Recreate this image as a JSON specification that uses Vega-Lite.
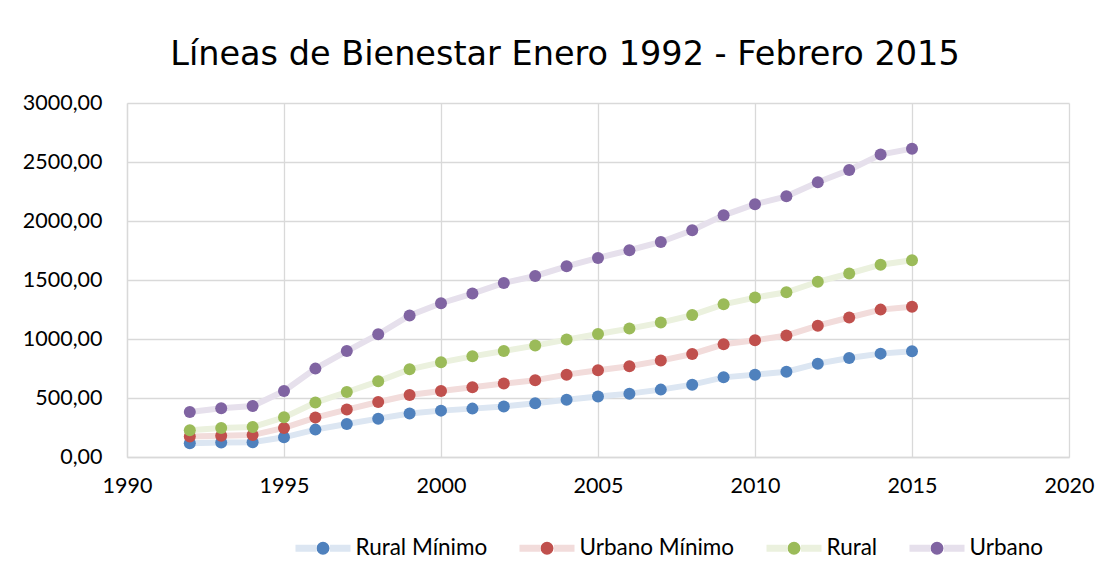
{
  "$schema": "https://vega.github.io/schema/vega-lite/v6.json",
  "width": 942,
  "height": 354,
  "autosize": {"type": "none"},
  "padding": {"left": 127, "top": 103, "right": 47, "bottom": 122},
  "background": "white",
  "config": {
    "locale": {"number": {"decimal": ",", "thousands": ".", "grouping": [3], "currency": ["", " €"]}},
    "font": "Lato",
    "view": {"stroke": null},
    "axis": {
      "title": null,
      "grid": true,
      "gridColor": "#D9D9D9",
      "gridWidth": 1.3,
      "domainColor": "#D9D9D9",
      "domainWidth": 1.3,
      "ticks": false,
      "labelColor": "#000000",
      "labelFont": "Lato",
      "labelFontSize": 21.5,
      "labelOverlap": false,
      "labelFlush": false,
      "labelBound": false
    }
  },
  "title": {
    "text": "Líneas de Bienestar Enero 1992 - Febrero 2015",
    "font": "DejaVu Sans",
    "fontSize": 33.5,
    "fontWeight": "normal",
    "color": "#000000",
    "anchor": "middle",
    "baseline": "alphabetic",
    "dx": -33,
    "offset": -6
  },
  "data": {
    "values": [
      {"year": 1992, "serie": "Rural Mínimo", "value": 116},
      {"year": 1993, "serie": "Rural Mínimo", "value": 122},
      {"year": 1994, "serie": "Rural Mínimo", "value": 125},
      {"year": 1995, "serie": "Rural Mínimo", "value": 167},
      {"year": 1996, "serie": "Rural Mínimo", "value": 232},
      {"year": 1997, "serie": "Rural Mínimo", "value": 280},
      {"year": 1998, "serie": "Rural Mínimo", "value": 325},
      {"year": 1999, "serie": "Rural Mínimo", "value": 368},
      {"year": 2000, "serie": "Rural Mínimo", "value": 393},
      {"year": 2001, "serie": "Rural Mínimo", "value": 410},
      {"year": 2002, "serie": "Rural Mínimo", "value": 428},
      {"year": 2003, "serie": "Rural Mínimo", "value": 455},
      {"year": 2004, "serie": "Rural Mínimo", "value": 486},
      {"year": 2005, "serie": "Rural Mínimo", "value": 512},
      {"year": 2006, "serie": "Rural Mínimo", "value": 537},
      {"year": 2007, "serie": "Rural Mínimo", "value": 571},
      {"year": 2008, "serie": "Rural Mínimo", "value": 613},
      {"year": 2009, "serie": "Rural Mínimo", "value": 675},
      {"year": 2010, "serie": "Rural Mínimo", "value": 698},
      {"year": 2011, "serie": "Rural Mínimo", "value": 723},
      {"year": 2012, "serie": "Rural Mínimo", "value": 791},
      {"year": 2013, "serie": "Rural Mínimo", "value": 839},
      {"year": 2014, "serie": "Rural Mínimo", "value": 876},
      {"year": 2015, "serie": "Rural Mínimo", "value": 896},
      {"year": 1992, "serie": "Urbano Mínimo", "value": 173},
      {"year": 1993, "serie": "Urbano Mínimo", "value": 181},
      {"year": 1994, "serie": "Urbano Mínimo", "value": 186},
      {"year": 1995, "serie": "Urbano Mínimo", "value": 246},
      {"year": 1996, "serie": "Urbano Mínimo", "value": 334},
      {"year": 1997, "serie": "Urbano Mínimo", "value": 402},
      {"year": 1998, "serie": "Urbano Mínimo", "value": 466},
      {"year": 1999, "serie": "Urbano Mínimo", "value": 525},
      {"year": 2000, "serie": "Urbano Mínimo", "value": 559},
      {"year": 2001, "serie": "Urbano Mínimo", "value": 591},
      {"year": 2002, "serie": "Urbano Mínimo", "value": 622},
      {"year": 2003, "serie": "Urbano Mínimo", "value": 650},
      {"year": 2004, "serie": "Urbano Mínimo", "value": 698},
      {"year": 2005, "serie": "Urbano Mínimo", "value": 735},
      {"year": 2006, "serie": "Urbano Mínimo", "value": 769},
      {"year": 2007, "serie": "Urbano Mínimo", "value": 817},
      {"year": 2008, "serie": "Urbano Mínimo", "value": 873},
      {"year": 2009, "serie": "Urbano Mínimo", "value": 955},
      {"year": 2010, "serie": "Urbano Mínimo", "value": 989},
      {"year": 2011, "serie": "Urbano Mínimo", "value": 1030},
      {"year": 2012, "serie": "Urbano Mínimo", "value": 1113},
      {"year": 2013, "serie": "Urbano Mínimo", "value": 1182},
      {"year": 2014, "serie": "Urbano Mínimo", "value": 1249},
      {"year": 2015, "serie": "Urbano Mínimo", "value": 1274},
      {"year": 1992, "serie": "Rural", "value": 226},
      {"year": 1993, "serie": "Rural", "value": 246},
      {"year": 1994, "serie": "Rural", "value": 254},
      {"year": 1995, "serie": "Rural", "value": 336},
      {"year": 1996, "serie": "Rural", "value": 461},
      {"year": 1997, "serie": "Rural", "value": 551},
      {"year": 1998, "serie": "Rural", "value": 641},
      {"year": 1999, "serie": "Rural", "value": 743},
      {"year": 2000, "serie": "Rural", "value": 802},
      {"year": 2001, "serie": "Rural", "value": 853},
      {"year": 2002, "serie": "Rural", "value": 898},
      {"year": 2003, "serie": "Rural", "value": 944},
      {"year": 2004, "serie": "Rural", "value": 995},
      {"year": 2005, "serie": "Rural", "value": 1042},
      {"year": 2006, "serie": "Rural", "value": 1088},
      {"year": 2007, "serie": "Rural", "value": 1139},
      {"year": 2008, "serie": "Rural", "value": 1203},
      {"year": 2009, "serie": "Rural", "value": 1294},
      {"year": 2010, "serie": "Rural", "value": 1351},
      {"year": 2011, "serie": "Rural", "value": 1396},
      {"year": 2012, "serie": "Rural", "value": 1485},
      {"year": 2013, "serie": "Rural", "value": 1555},
      {"year": 2014, "serie": "Rural", "value": 1630},
      {"year": 2015, "serie": "Rural", "value": 1667},
      {"year": 1992, "serie": "Urbano", "value": 381},
      {"year": 1993, "serie": "Urbano", "value": 413},
      {"year": 1994, "serie": "Urbano", "value": 432},
      {"year": 1995, "serie": "Urbano", "value": 559},
      {"year": 1996, "serie": "Urbano", "value": 749},
      {"year": 1997, "serie": "Urbano", "value": 898},
      {"year": 1998, "serie": "Urbano", "value": 1040},
      {"year": 1999, "serie": "Urbano", "value": 1200},
      {"year": 2000, "serie": "Urbano", "value": 1303},
      {"year": 2001, "serie": "Urbano", "value": 1385},
      {"year": 2002, "serie": "Urbano", "value": 1475},
      {"year": 2003, "serie": "Urbano", "value": 1534},
      {"year": 2004, "serie": "Urbano", "value": 1616},
      {"year": 2005, "serie": "Urbano", "value": 1687},
      {"year": 2006, "serie": "Urbano", "value": 1752},
      {"year": 2007, "serie": "Urbano", "value": 1822},
      {"year": 2008, "serie": "Urbano", "value": 1921},
      {"year": 2009, "serie": "Urbano", "value": 2048},
      {"year": 2010, "serie": "Urbano", "value": 2142},
      {"year": 2011, "serie": "Urbano", "value": 2209},
      {"year": 2012, "serie": "Urbano", "value": 2328},
      {"year": 2013, "serie": "Urbano", "value": 2432},
      {"year": 2014, "serie": "Urbano", "value": 2563},
      {"year": 2015, "serie": "Urbano", "value": 2613}
    ]
  },
  "encoding": {
    "x": {
      "field": "year",
      "type": "quantitative",
      "scale": {"domain": [1990, 2020], "zero": false, "nice": false},
      "axis": {"values": [1990, 1995, 2000, 2005, 2010, 2015, 2020], "format": "d", "labelPadding": 18}
    },
    "y": {
      "field": "value",
      "type": "quantitative",
      "scale": {"domain": [0, 3000], "nice": false},
      "axis": {"values": [0, 500, 1000, 1500, 2000, 2500, 3000], "format": ".2f", "labelPadding": 25}
    }
  },
  "layer": [
    {
      "mark": {"type": "line", "strokeWidth": 6, "strokeCap": "round"},
      "encoding": {
        "color": {
          "field": "serie",
          "type": "nominal",
          "sort": ["Rural Mínimo", "Urbano Mínimo", "Rural", "Urbano"],
          "scale": {"range": ["#DCE6F2", "#F2DCDB", "#EBF1DE", "#E6E0EC"]},
          "legend": null
        }
      }
    },
    {
      "mark": {"type": "point", "filled": true, "size": 144, "opacity": 1, "strokeWidth": 0},
      "encoding": {
        "fill": {
          "field": "serie",
          "type": "nominal",
          "scale": {"domain": ["Rural Mínimo", "Urbano Mínimo", "Rural", "Urbano"], "range": ["#4F81BD", "#C0504D", "#9BBB59", "#8064A2"]},
          "legend": {
            "title": null,
            "orient": "none",
            "direction": "horizontal",
            "legendX": 165,
            "legendY": 414,
            "padding": 0,
            "symbolType": "M-1,0L-0.236,0L-0.218,0.09L-0.167,0.167L-0.09,0.218L0,0.236L0.09,0.218L0.167,0.167L0.218,0.09L0.236,0L0.218,-0.09L0.167,-0.167L0.09,-0.218L0,-0.236L-0.09,-0.218L-0.167,-0.167L-0.218,-0.09L-0.236,0L0.236,0L1,0",
            "symbolSize": 3025,
            "symbolStrokeWidth": 7,
            "symbolDash": [21, 54, 23, 300],
            "symbolOpacity": 1,
            "labelOffset": 1.5,
            "columnPadding": 17,
            "labelFontSize": 22.5,
            "labelFont": "Lato",
            "labelColor": "#000000",
            "encode": {
              "symbols": {
                "update": {
                  "stroke": {"scale": "color", "field": "value"}
                }
              }
            }
          }
        }
      }
    }
  ]
}
